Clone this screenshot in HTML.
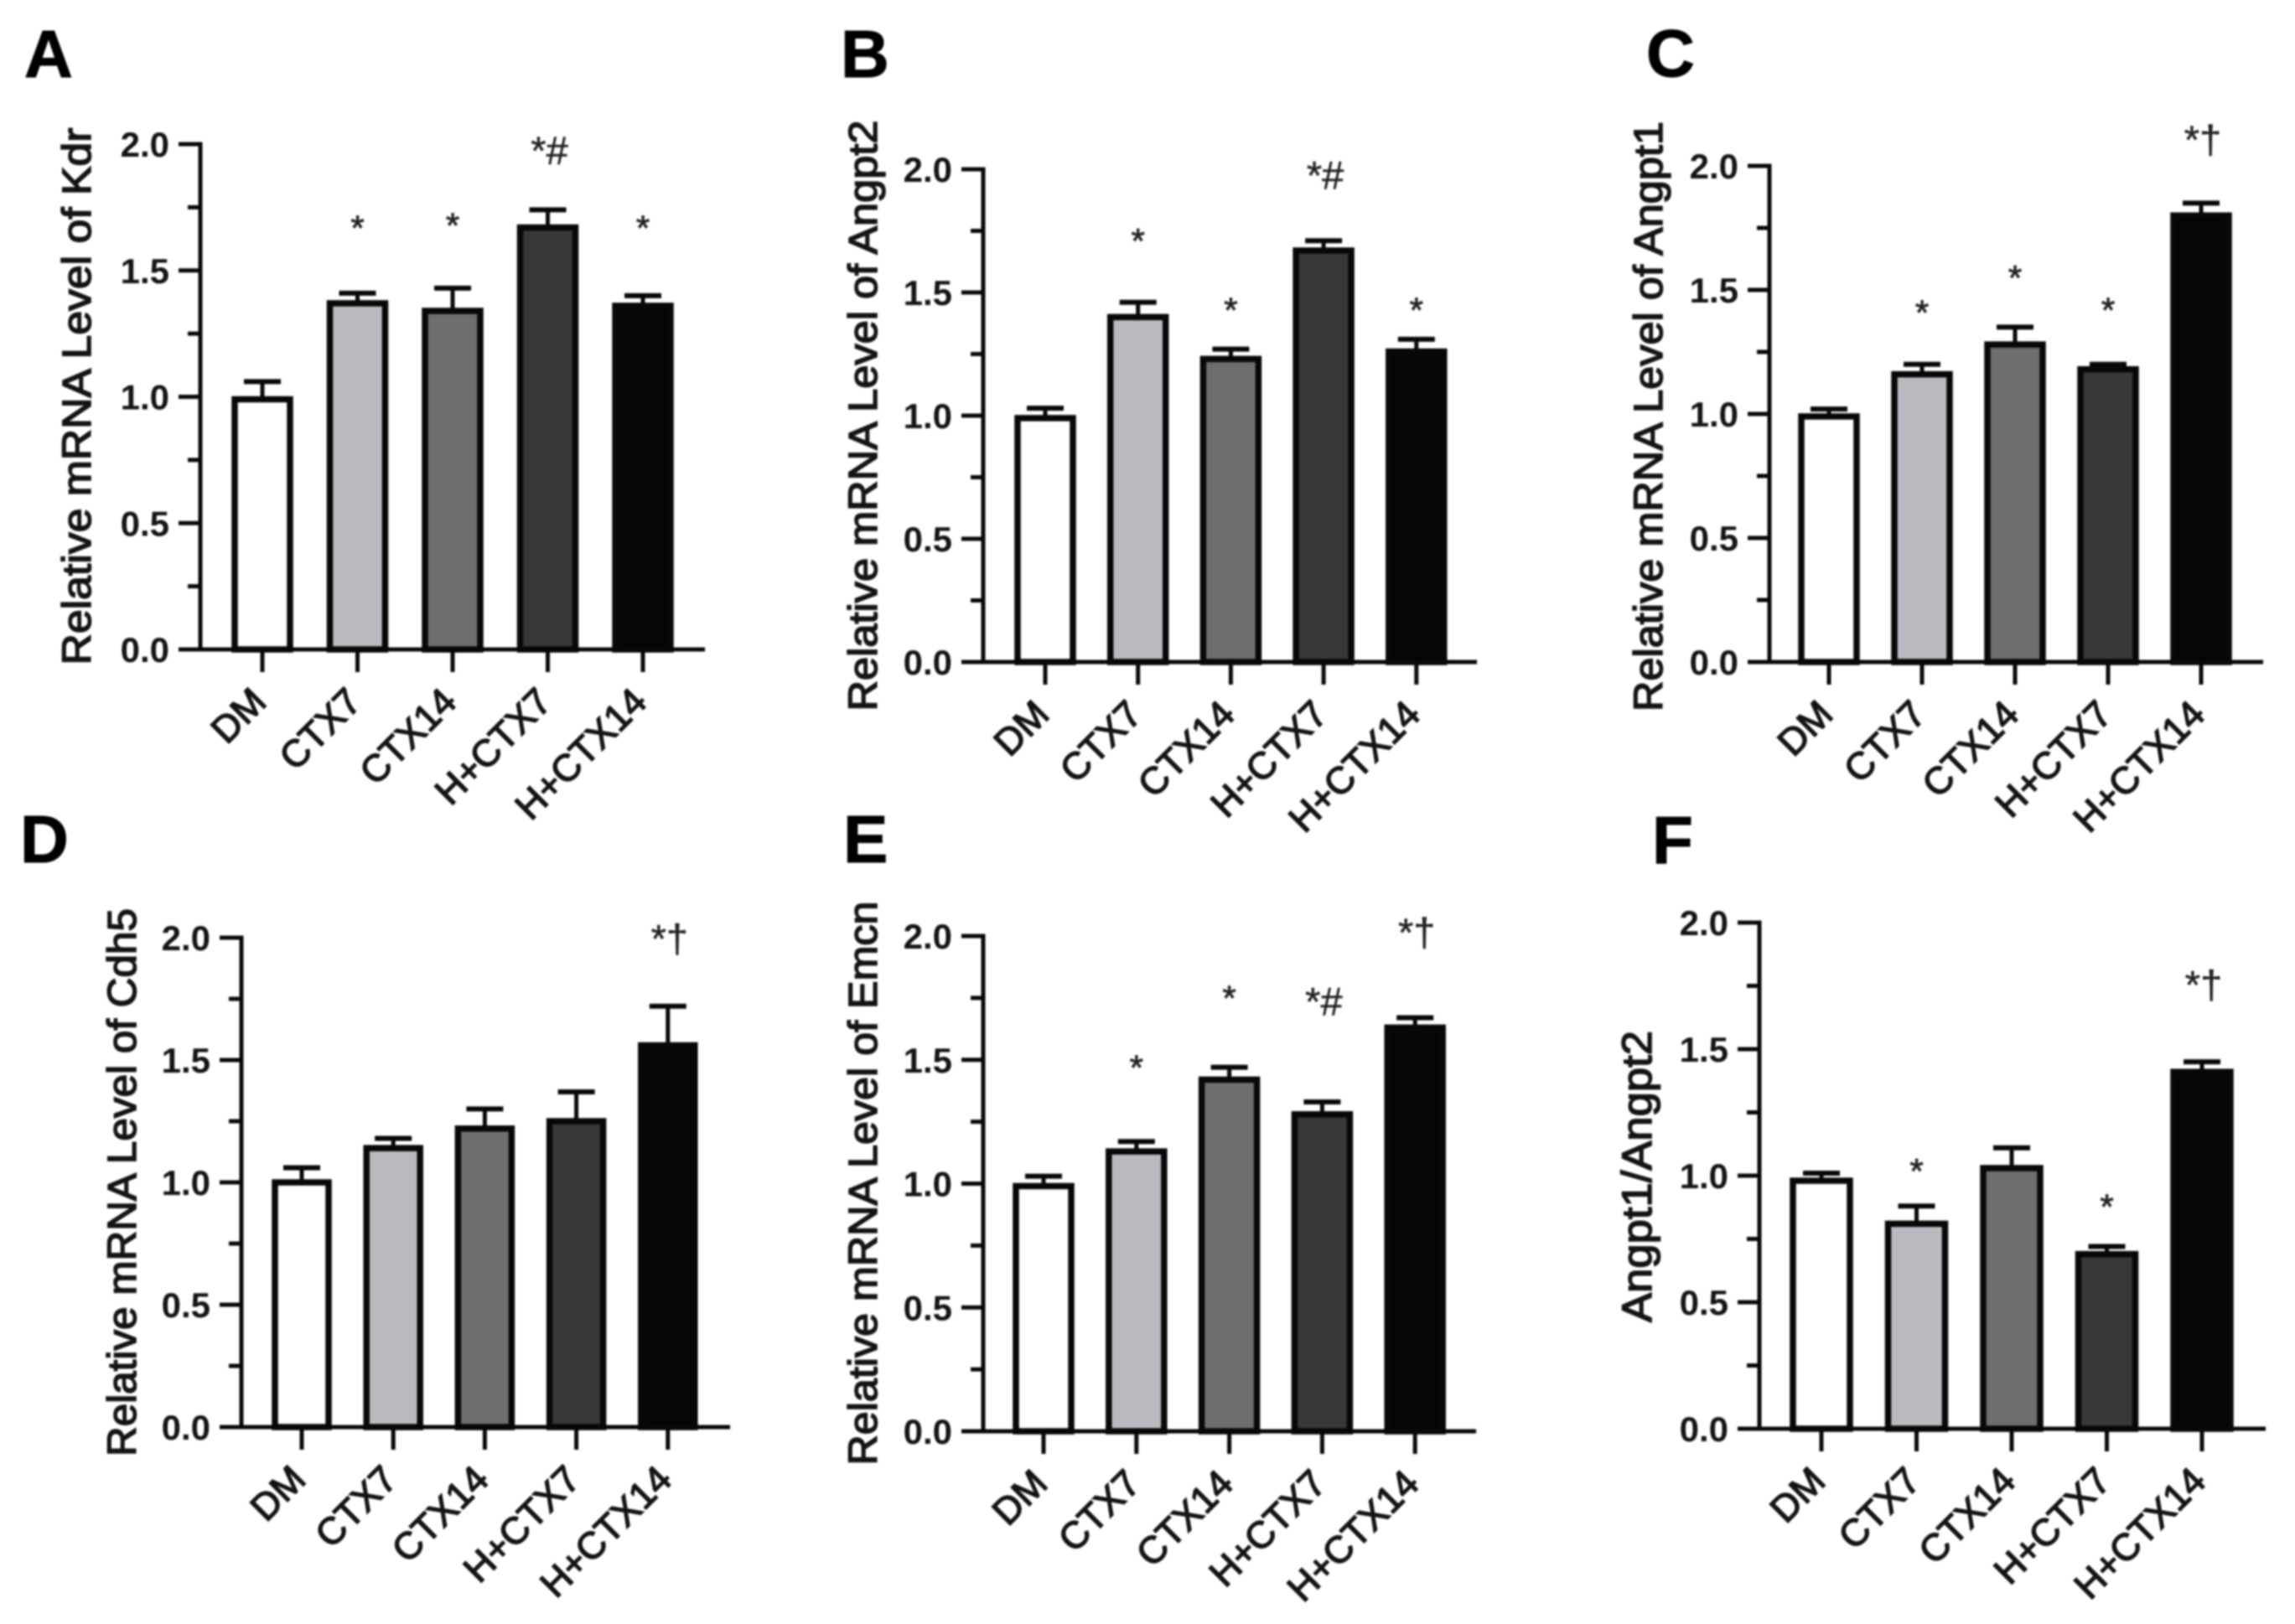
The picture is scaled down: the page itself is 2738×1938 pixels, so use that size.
<!DOCTYPE html>
<html lang="en">
<head>
<meta charset="utf-8">
<title>Relative mRNA levels, panels A to F</title>
<style>
html,body{margin:0;padding:0;background:#fff;}
svg{display:block;filter:blur(1.1px);}
text{font-family:"Liberation Sans",Arial,sans-serif;}
</style>
</head>
<body>
<svg id="figure" xmlns="http://www.w3.org/2000/svg" width="2738" height="1938" viewBox="0 0 2738 1938">
<rect x="0" y="0" width="2738" height="1938" fill="#ffffff"/>
</svg>
<script>
// Shared categories and axis ticks
const categories = ['DM', 'CTX7', 'CTX14', 'H+CTX7', 'H+CTX14'];
const majorTickValues = [0, 0.5, 1, 1.5, 2];
const majorTickLabels = ['0.0', '0.5', '1.0', '1.5', '2.0'];
const minorTickValues = [0.25, 0.75, 1.25, 1.75];

// Panel A: Kdr
const kdrValues = [0.99, 1.37, 1.34, 1.67, 1.36];
const kdrErrorTops = [1.06, 1.41, 1.43, 1.74, 1.40];
const kdrMarks = [null, '*', '*', '*#', '*'];
const kdrMarkLevels = [null, 1.62, 1.63, 1.92, 1.62];

// Panel B: Angpt2
const angpt2Values = [0.99, 1.40, 1.23, 1.67, 1.26];
const angpt2ErrorTops = [1.03, 1.46, 1.27, 1.71, 1.31];
const angpt2Marks = [null, '*', '*', '*#', '*'];
const angpt2MarkLevels = [null, 1.66, 1.38, 1.92, 1.38];

// Panel C: Angpt1
const angpt1Values = [0.99, 1.16, 1.28, 1.18, 1.80];
const angpt1ErrorTops = [1.02, 1.20, 1.35, 1.20, 1.85];
const angpt1Marks = [null, '*', '*', '*', '*\u2020'];
const angpt1MarkLevels = [null, 1.36, 1.50, 1.37, 2.05];

// Panel D: Cdh5
const cdh5Values = [1.0, 1.14, 1.22, 1.25, 1.56];
const cdh5ErrorTops = [1.06, 1.18, 1.30, 1.37, 1.72];
const cdh5Marks = [null, null, null, null, '*\u2020'];
const cdh5MarkLevels = [null, null, null, null, 1.94];

// Panel E: Emcn
const emcnValues = [0.99, 1.13, 1.42, 1.28, 1.63];
const emcnErrorTops = [1.03, 1.17, 1.47, 1.33, 1.67];
const emcnMarks = [null, '*', '*', '*#', '*\u2020'];
const emcnMarkLevels = [null, 1.42, 1.70, 1.68, 1.96];

// Panel F: Angpt1/Angpt2
const ratioValues = [0.98, 0.81, 1.03, 0.69, 1.41];
const ratioErrorTops = [1.01, 0.88, 1.11, 0.72, 1.45];
const ratioMarks = [null, '*', null, '*', '*\u2020'];
const ratioMarkLevels = [null, 0.97, null, 0.83, 1.70];

const barFills = ['#ffffff', '#b9bac0', '#6e6e70', '#383838', '#060606'];
const INK = '#080808';
const TEXT = '#141414';
const NS = 'http://www.w3.org/2000/svg';
const figure = document.getElementById('figure');

function make(tag, attrs, parent, content) {
  const el = document.createElementNS(NS, tag);
  for (const k in attrs) el.setAttribute(k, attrs[k]);
  if (content !== undefined) el.textContent = content;
  parent.appendChild(el);
  return el;
}

function drawPanel(p) {
  const group = make('g', {}, figure);
  
  

  const yScale = v => p.y0 + (p.y2 - p.y0) * (v / 2);
  const xScale = i => p.c0 + p.step * i;

  const letter = make('text', {x: p.lx, y: p.ly, 'font-size': 80, 'font-weight': 700, fill: '#000', stroke: '#000', 'stroke-width': 1}, group, p.letter);
  
  

  const title = make('text', {
    x: 0, y: 0, 'font-size': p.titleSize, fill: TEXT, stroke: TEXT, 'stroke-width': 1.6,
    'text-anchor': 'middle', textLength: p.titleLen, lengthAdjust: 'spacingAndGlyphs',
    transform: 'translate(' + p.titleX + ' ' + p.titleY + ') rotate(-90)'
  }, group, p.title);
  
  

  p.tops.forEach((top, i) => {
    const stem = make('line', {x1: xScale(i), x2: xScale(i), y1: yScale(p.values[i]), y2: yScale(top), stroke: INK, 'stroke-width': 5}, group);
    
    
    const cap = make('line', {x1: xScale(i) - 22, x2: xScale(i) + 22, y1: yScale(top), y2: yScale(top), stroke: INK, 'stroke-width': 6}, group);
    
    
  });

  p.values.forEach((v, i) => {
    const w = p.barW - 7;
    const bar = make('rect', {x: xScale(i) - w / 2, y: yScale(v), width: w, height: p.y0 - yScale(v), fill: barFills[i], stroke: INK, 'stroke-width': 7.5}, group);
    
    
  });

  const yAxis = make('line', {x1: p.ax, x2: p.ax, y1: p.y2 - 2.5, y2: p.y0, stroke: INK, 'stroke-width': 5}, group);
  
  
  const xAxis = make('line', {x1: p.ax - 26, x2: p.xEnd, y1: p.y0, y2: p.y0, stroke: INK, 'stroke-width': 5}, group);
  
  

  majorTickValues.forEach((v, i) => {
    const tick = make('line', {x1: p.ax - 26, x2: p.ax, y1: yScale(v), y2: yScale(v), stroke: INK, 'stroke-width': 5}, group);
    
    
    const label = make('text', {x: p.ax - 37, y: yScale(v) + 15, 'font-size': 42, 'font-weight': 700, fill: TEXT, 'text-anchor': 'end'}, group, majorTickLabels[i]);
    
    
  });
  minorTickValues.forEach(v => {
    const tick = make('line', {x1: p.ax - 15, x2: p.ax, y1: yScale(v), y2: yScale(v), stroke: INK, 'stroke-width': 5}, group);
    
    
  });

  categories.forEach((c, i) => {
    const tick = make('line', {x1: xScale(i), x2: xScale(i), y1: p.y0, y2: p.y0 + 27, stroke: INK, 'stroke-width': 5}, group);
    
    
    const label = make('text', {
      x: 0, y: 0, 'font-size': 45, fill: TEXT, stroke: TEXT, 'stroke-width': 1.5, 'text-anchor': 'end',
      transform: 'translate(' + (xScale(i) + 7) + ' ' + (p.y0 + 65) + ') rotate(-45)'
    }, group, c);
    
    
  });

  p.marks.forEach((m, i) => {
    if (!m) return;
    const solo = m === '*';
    const mark = make('text', {
      x: xScale(i) + (solo ? 0 : 2), y: yScale(p.levels[i]),
      'font-size': solo ? 42 : 47, fill: '#222222', stroke: '#222222', 'stroke-width': solo ? 0.8 : 0.5, 'text-anchor': 'middle'
    }, group, m);
    
    
  });
}

const panels = [
  {letter: 'A', lx: 29, ly: 92, title: 'Relative mRNA Level of Kdr', titleX: 108, titleY: 473, titleLen: 641, titleSize: 48,
   ax: 239, y2: 172, y0: 775, xEnd: 841, c0: 313, step: 113.5, barW: 73,
   values: kdrValues, tops: kdrErrorTops, marks: kdrMarks, levels: kdrMarkLevels},
  {letter: 'B', lx: 1003, ly: 92, title: 'Relative mRNA Level of Angpt2', titleX: 1046, titleY: 496, titleLen: 705, titleSize: 48,
   ax: 1173, y2: 202, y0: 790, xEnd: 1762, c0: 1247, step: 110.7, barW: 73,
   values: angpt2Values, tops: angpt2ErrorTops, marks: angpt2Marks, levels: angpt2MarkLevels},
  {letter: 'C', lx: 1964, ly: 91, title: 'Relative mRNA Level of Angpt1', titleX: 1983, titleY: 497, titleLen: 704, titleSize: 48,
   ax: 2111, y2: 198, y0: 790, xEnd: 2700, c0: 2182, step: 111, barW: 73,
   values: angpt1Values, tops: angpt1ErrorTops, marks: angpt1Marks, levels: angpt1MarkLevels},
  {letter: 'D', lx: 24, ly: 1029, title: 'Relative mRNA Level of Cdh5', titleX: 162, titleY: 1411, titleLen: 654, titleSize: 48,
   ax: 288, y2: 1119, y0: 1703, xEnd: 871, c0: 360, step: 109.2, barW: 71,
   values: cdh5Values, tops: cdh5ErrorTops, marks: cdh5Marks, levels: cdh5MarkLevels},
  {letter: 'E', lx: 1006, ly: 1029, title: 'Relative mRNA Level of Emcn', titleX: 1046, titleY: 1412, titleLen: 673, titleSize: 48,
   ax: 1173, y2: 1117, y0: 1708, xEnd: 1761, c0: 1245, step: 110.8, barW: 73,
   values: emcnValues, tops: emcnErrorTops, marks: emcnMarks, levels: emcnMarkLevels},
  {letter: 'F', lx: 1971, ly: 1030, title: 'Angpt1/Angpt2', titleX: 1970, titleY: 1404, titleLen: 348, titleSize: 50,
   ax: 2099, y2: 1101, y0: 1705, xEnd: 2703, c0: 2173, step: 113.5, barW: 75,
   values: ratioValues, tops: ratioErrorTops, marks: ratioMarks, levels: ratioMarkLevels}
];
panels.forEach(drawPanel);
</script>
</body>
</html>
